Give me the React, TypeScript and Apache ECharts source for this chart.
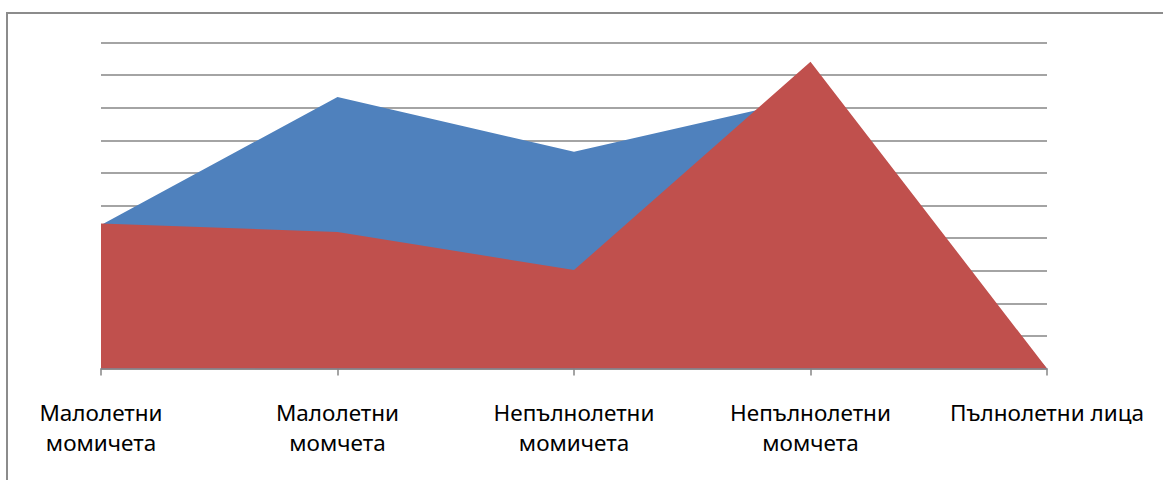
import React, { useEffect, useRef } from "react";
import * as echarts from "echarts";

const categories = [
  "Малолетни\nмомичета",
  "Малолетни\nмомчета",
  "Непълнолетни\nмомичета",
  "Непълнолетни\nмомчета",
  "Пълнолетни лица",
];
const blueValues = [4.4, 8.33, 6.65, 8.3, 0];
const redValues = [4.45, 4.19, 3.02, 9.41, 0];

export default function App() {
  const ref = useRef<HTMLDivElement>(null);
  useEffect(() => {
    if (!ref.current) return;
    const chart = echarts.init(ref.current, null, { renderer: "svg" });
    chart.setOption({
      animation: false,
      backgroundColor: "#ffffff",
      grid: { left: 101, right: 116, top: 42.5, bottom: 111.5, containLabel: false },
      graphic: [
        {
          type: "rect",
          shape: { x: 7, y: 13, width: 1170, height: 480 },
          style: { fill: "none", stroke: "#8c8c8c", lineWidth: 2 },
          z: 100,
        },
      ],
      xAxis: {
        type: "category",
        data: categories,
        boundaryGap: false,
        axisLine: { show: true, lineStyle: { color: "#868686", width: 1.5 } },
        axisTick: { show: true, length: 7, lineStyle: { color: "#868686", width: 1.5 } },
        axisLabel: {
          interval: 0,
          color: "#000000",
          fontSize: 22.5,
          lineHeight: 30,
          margin: 29,
          fontFamily: "Noto Sans",
        },
        splitLine: { show: false },
      },
      yAxis: {
        type: "value",
        min: 0,
        max: 10,
        interval: 1,
        axisLine: { show: false },
        axisTick: { show: false },
        axisLabel: { show: false },
        splitLine: { show: true, lineStyle: { color: "#868686", width: 1.5 } },
      },
      series: [
        {
          type: "line",
          data: blueValues,
          symbol: "none",
          lineStyle: { width: 0 },
          areaStyle: { color: "#4F81BD", opacity: 1 },
          itemStyle: { color: "#4F81BD" },
        },
        {
          type: "line",
          data: redValues,
          symbol: "none",
          lineStyle: { width: 0 },
          areaStyle: { color: "#C0504D", opacity: 1 },
          itemStyle: { color: "#C0504D" },
        },
      ],
    });
    return () => chart.dispose();
  }, []);
  return (
    <div
      ref={ref}
      style={{ position: "fixed", left: 0, top: 0, width: 1163, height: 480 }}
    />
  );
}
